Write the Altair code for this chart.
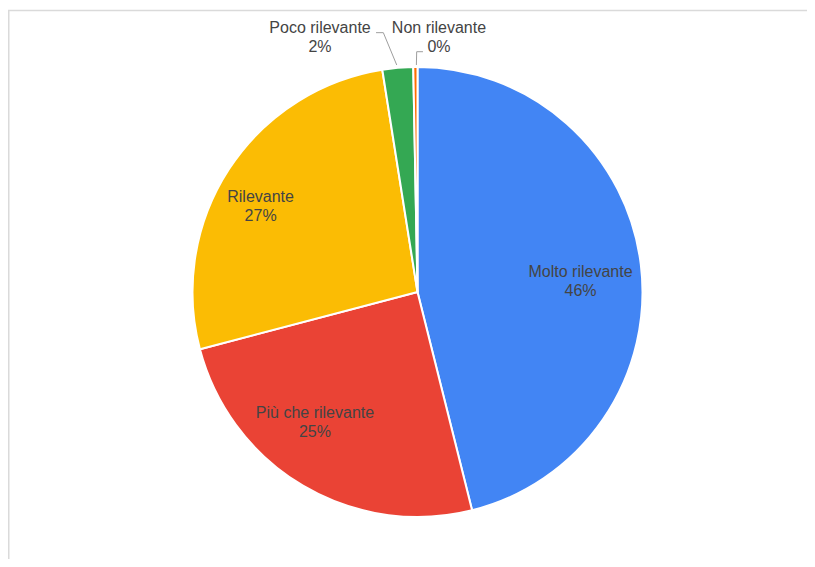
import math
import altair as alt
import pandas as pd

# ---- data ----
categories = ["Molto rilevante", "Più che rilevante", "Rilevante", "Poco rilevante", "Non rilevante"]
values = [46.1, 24.8, 26.6, 2.2, 0.3]
colors = ["#4285F4", "#EA4335", "#FBBC04", "#34A853", "#FF6D01"]

# ---- layout ----
W, H = 799, 551
CX, CY = 409.5, 284
R = 225
INNER_R = 168
FONT = "Liberation Sans"
TXT = "#444444"
# label ring radius and nudges (dx, dy)
label_layout = {
    "Molto rilevante": (INNER_R, -3.7, 5.5),
    "Più che rilevante": (INNER_R, -17, -18.6),
    "Rilevante": (INNER_R, -16.2, 1.4),
    "Poco rilevante": (R, -77.7, -34.6),
    "Non rilevante": (R, 23.6, -33.7),
}
# leader line offsets from slice edge anchor: start, elbow, end
leader_layout = {
    "Poco rilevante": [(-1.0, -2.9), (-14.4, -35.2), (-21.7, -35.2)],
    "Non rilevante": [(1.0, -2.0), (1.3, -15.3), (7.6, -15.3)],
}

total = sum(values)
pcts = [f"{round(v / total * 100)}%" for v in values]
df = pd.DataFrame({
    "cat": categories,
    "value": values,
    "order": list(range(len(values))),
    "label": [f"{c}\n{p}" for c, p in zip(categories, pcts)],
})

theta_scale = alt.Scale(domain=[0, total])

arcs = alt.Chart(df).mark_arc(outerRadius=R, stroke="white", strokeWidth=2).encode(
    theta=alt.Theta("value:Q", stack=True, scale=theta_scale),
    order=alt.Order("order:Q"),
    color=alt.Color("cat:N", scale=alt.Scale(domain=categories, range=colors), legend=None),
    x=alt.value(CX),
    y=alt.value(CY),
)

stacked = alt.Chart(df).transform_window(
    cum="sum(value)", sort=[alt.SortField("order")], frame=[None, 0]
).transform_calculate(mid="datum.cum - datum.value / 2")

layers = [arcs]
for cat in categories:
    rr, dx, dy = label_layout[cat]
    layers.append(
        stacked.transform_filter(alt.datum.cat == cat).mark_text(
            radius=rr, dx=dx, dy=dy, align="center", baseline="alphabetic",
            lineBreak="\n", lineHeight=19, font=FONT, fontSize=16, color=TXT,
        ).encode(
            theta=alt.Theta("mid:Q", scale=theta_scale),
            text="label:N",
            x=alt.value(CX),
            y=alt.value(CY),
        )
    )

# leader lines computed from slice mid-angles
rows = []
cum = 0
for cat, v in zip(categories, values):
    mid = (cum + v / 2) / total * 2 * math.pi
    cum += v
    if cat in leader_layout:
        ax = CX + R * math.sin(mid)
        ay = CY - R * math.cos(mid)
        for i, (ox, oy) in enumerate(leader_layout[cat]):
            rows.append({"cat": cat, "i": i, "px": ax + ox, "py": ay + oy})
lead_df = pd.DataFrame(rows)
leaders = alt.Chart(lead_df).mark_line(color="#9e9e9e", strokeWidth=1).encode(
    x=alt.X("px:Q", scale=None),
    y=alt.Y("py:Q", scale=None),
    detail="cat:N",
    order="i:Q",
)
layers.append(leaders)

frame_df = pd.DataFrame({"a": [0]})
top_rule = alt.Chart(frame_df).mark_rule(color="#dadada", strokeWidth=1.5).encode(
    x=alt.value(0), x2=alt.value(W), y=alt.value(2.5)
)
left_rule = alt.Chart(frame_df).mark_rule(color="#dadada", strokeWidth=2).encode(
    x=alt.value(0.5), y=alt.value(2), y2=alt.value(H)
)
layers += [top_rule, left_rule]

chart = alt.layer(*layers).properties(
    width=W, height=H, autosize=alt.AutoSizeParams(type="none"), padding=0
).configure_view(stroke=None)

chart.save("out.html", embed_options={"renderer": "svg", "actions": False})
